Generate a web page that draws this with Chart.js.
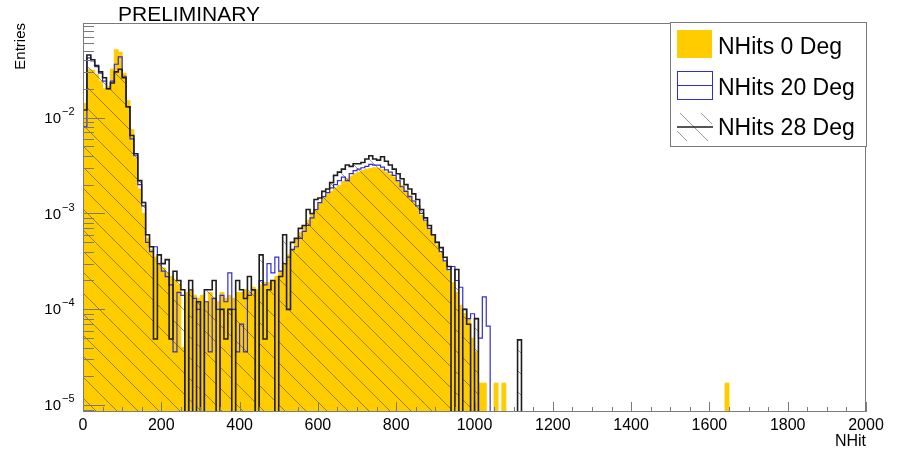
<!DOCTYPE html>
<html>
<head>
<meta charset="utf-8">
<script src="https://cdn.jsdelivr.net/npm/chart.js@4.4.1/dist/chart.umd.min.js"></script>
<style>
  html, body { margin: 0; padding: 0; background: #fff; }
  canvas { display: block; }
</style>
</head>
<body>
<canvas id="nhitChart" width="903" height="452"></canvas>
<script>
// histogram binning: first bin starts at NHit 0
const BIN_WIDTH = 10;
const Y_MIN = 8.5e-6;
const Y_MAX = 0.097;

const seriesLabels = ["NHits 0 Deg", "NHits 20 Deg", "NHits 28 Deg"];

// normalised entries per bin
const deg0 = [
  0.014, 0.032, 0.031, 0.028, 0.024, 0.020, 0.021, 0.032, 0.051, 0.048,
  0.029, 0.015, 0.0075, 0.0038, 0.0018, 0.0010, 5.5e-4, 4.2e-4, 3.5e-4, 3.0e-4,
  2.7e-4, 2.4e-4, 2.2e-4, 2.0e-4, 1.8e-4, 4e-5, 1.5e-4, 1.6e-4, 1.4e-4, 1.3e-4,
  1.4e-4, 1.2e-4, 1.5e-4, 1.3e-4, 1.2e-4, 1.5e-4, 1.3e-4, 1.4e-4, 1.3e-4, 1.5e-4,
  1.5e-4, 1.6e-4, 1.5e-4, 1.7e-4, 1.6e-4, 1.8e-4, 1.9e-4, 1.9e-4, 2.0e-4, 2.2e-4,
  2.5e-4, 3.0e-4, 3.7e-4, 4.3e-4, 5.3e-4, 6.3e-4, 7.5e-4, 8.5e-4, 1.0e-3, 1.1e-3,
  1.3e-3, 1.45e-3, 1.6e-3, 1.7e-3, 1.85e-3, 1.95e-3, 2.15e-3, 2.3e-3, 2.45e-3, 2.6e-3,
  2.7e-3, 2.8e-3, 2.9e-3, 2.95e-3, 3.0e-3, 2.95e-3, 2.85e-3, 2.7e-3, 2.55e-3, 2.4e-3,
  2.15e-3, 1.95e-3, 1.75e-3, 1.55e-3, 1.35e-3, 1.15e-3, 9.5e-4, 8.2e-4, 7.0e-4, 5.8e-4,
  4.7e-4, 3.8e-4, 3.1e-4, 2.5e-4, 1.9e-4, 1.5e-4, 1.1e-4, 9e-5, 8e-5, 5e-5,
  3.6e-5, 1.7e-5, 1.7e-5, 0, 0, 1.7e-5, 0, 1.7e-5,
];
// lone far bins
const deg0Far = [{ nhit: 1640, entries: 1.7e-5 }];

const deg20 = [
  0.008, 0.042, 0.039, 0.034, 0.029, 0.024, 0.020, 0.024, 0.036, 0.043,
  0.027, 0.013, 0.006, 0.004, 0.002, 0.0012, 5e-4, 4e-4, 4.5e-4, 3.0e-4,
  2.5e-4, 2.2e-4, 1.8e-4, 3.6e-5, 1.5e-4, 1.4e-4, 0, 1.6e-4, 1.3e-4, 1.0e-4,
  0, 1.2e-4, 3.6e-5, 1.3e-4, 1.0e-4, 1.4e-4, 1.2e-4, 2.4e-4, 1.0e-4, 3.6e-5,
  7e-5, 3.6e-5, 1.4e-4, 1.6e-4, 0, 2.0e-4, 1.8e-4, 3.0e-4, 2.4e-4, 3.5e-4,
  2.5e-4, 3.0e-4, 3.5e-4, 4.2e-4, 4.5e-4, 5.5e-4, 6.5e-4, 7.5e-4, 9e-4, 1.1e-3,
  1.3e-3, 1.5e-3, 1.65e-3, 1.85e-3, 2.0e-3, 2.2e-3, 2.4e-3, 2.2e-3, 2.6e-3, 2.8e-3,
  2.9e-3, 3.0e-3, 3.1e-3, 3.25e-3, 3.2e-3, 3.2e-3, 3.05e-3, 2.85e-3, 2.7e-3, 2.5e-3,
  2.2e-3, 1.9e-3, 1.7e-3, 1.5e-3, 1.35e-3, 1.2e-3, 1.0e-3, 8.5e-4, 7e-4, 6e-4,
  5e-4, 4e-4, 3.2e-4, 2.6e-4, 2.8e-4, 2.0e-4, 1.7e-4, 1.0e-4, 8e-5, 9e-5,
  8e-5, 5e-5, 1.35e-4, 6.7e-5,
];

const deg28 = [
  0.012, 0.045, 0.040, 0.035, 0.030, 0.026, 0.020, 0.023, 0.030, 0.032,
  0.026, 0.013, 0.0065, 0.0042, 0.0022, 0.0013, 6e-4, 4.5e-4, 4.9e-5, 3.7e-4,
  3.0e-4, 3.3e-4, 4.9e-5, 2.5e-4, 2.0e-4, 1.6e-4, 0, 2.0e-4, 0, 1.2e-4,
  0, 1.6e-4, 1.6e-4, 2.0e-4, 0, 1.0e-4, 4.9e-5, 1.0e-4, 0, 2.0e-4,
  1.6e-4, 1.3e-4, 2.2e-4, 1.6e-4, 0, 3.7e-4, 4.9e-5, 1.6e-4, 2.0e-4, 0,
  2.2e-4, 6e-4, 1.0e-4, 5e-4, 5.5e-4, 7e-4, 7.5e-4, 1.1e-3, 1.0e-3, 1.4e-3,
  1.45e-3, 1.7e-3, 1.8e-3, 2.1e-3, 2.5e-3, 2.7e-3, 2.9e-3, 3.2e-3, 3.1e-3, 3.3e-3,
  3.3e-3, 3.4e-3, 3.7e-3, 4.0e-3, 3.7e-3, 3.6e-3, 3.9e-3, 3.5e-3, 3.2e-3, 2.9e-3,
  2.6e-3, 2.3e-3, 2.0e-3, 1.8e-3, 1.6e-3, 1.4e-3, 1.1e-3, 9e-4, 7.5e-4, 6e-4,
  5e-4, 4.4e-4, 3.5e-4, 2.8e-4, 0, 2.6e-4, 0, 1.0e-4, 7e-5, 0,
  8e-5, 0, 0, 0, 0, 0, 0, 0, 0, 0,
  0, 4.8e-5,
];

const xTickValues = [0, 200, 400, 600, 800, 1000, 1200, 1400, 1600, 1800, 2000];
const yDecades = [-5, -4, -3, -2];

const FONT = "'Liberation Sans', Arial, sans-serif";
Chart.defaults.font.family = FONT;

// step points at bin low edges; empty bins go below the log axis like in ROOT
function histPoints(values, extra = []) {
  const floor = Y_MIN / 10;
  const pts = [{ x: 0, y: floor }];
  values.forEach((v, i) => pts.push({ x: i * BIN_WIDTH, y: v > 0 ? v : floor }));
  pts.push({ x: values.length * BIN_WIDTH, y: floor });
  extra.forEach((b) => {
    pts.push({ x: b.nhit, y: b.entries });
    pts.push({ x: b.nhit + BIN_WIDTH, y: floor });
  });
  return pts;
}

const canvas = document.getElementById("nhitChart");

function makeHatch(color) {
  const s = 21;
  const tile = document.createElement("canvas");
  tile.width = s;
  tile.height = s;
  const g = tile.getContext("2d");
  g.strokeStyle = color;
  g.lineWidth = 1;
  g.beginPath();
  g.moveTo(-2, -2);
  g.lineTo(s + 2, s + 2);
  g.moveTo(-2, s - 2);
  g.lineTo(2, s + 2);
  g.moveTo(s - 2, -2);
  g.lineTo(s + 2, 2);
  g.stroke();
  return canvas.getContext("2d").createPattern(tile, "repeat");
}

const hatch = makeHatch("rgba(30, 30, 30, 0.45)");
const YELLOW = "#ffcc00";
const BLUE = "#2e2ed8";
const BLACK = "#1e1e1e";
const FRAME = "#7a7a7a";
const lineClip = { left: 0, top: 0, right: 0, bottom: -1 };

const rootDecor = {
  id: "rootDecor",
  afterDraw(chart) {
    const { ctx, chartArea: a, scales } = chart;
    const x = scales.x;
    const y = scales.y;
    ctx.save();

    // frame and inward ticks
    ctx.strokeStyle = FRAME;
    ctx.lineWidth = 1;
    ctx.strokeRect(a.left + 0.5, a.top + 0.5, a.right - a.left - 1, a.bottom - a.top - 1);
    ctx.beginPath();
    for (let v = xTickValues[0]; v <= xTickValues[xTickValues.length - 1]; v += 50) {
      const px = Math.round(x.getPixelForValue(v)) + 0.5;
      const len = xTickValues.includes(v) ? 10 : 5;
      ctx.moveTo(px, a.bottom);
      ctx.lineTo(px, a.bottom - len);
    }
    for (let e = -6; e <= -1; e++) {
      for (let m = 1; m <= 9; m++) {
        const v = m * Math.pow(10, e);
        if (v < y.min || v > y.max) continue;
        const py = Math.round(y.getPixelForValue(v)) + 0.5;
        ctx.moveTo(a.left, py);
        ctx.lineTo(a.left + (m === 1 ? 22 : 11), py);
      }
    }
    ctx.stroke();

    // log labels 10^n
    ctx.fillStyle = "#000";
    ctx.textBaseline = "middle";
    yDecades.forEach((e) => {
      const py = y.getPixelForValue(Math.pow(10, e));
      ctx.font = "15px " + FONT;
      ctx.textAlign = "right";
      ctx.fillText("10", 61, py + 1);
      ctx.font = "11px " + FONT;
      ctx.textAlign = "left";
      ctx.fillText("\u2212" + Math.abs(e), 62, py - 6);
    });

    // title
    ctx.textBaseline = "alphabetic";
    ctx.textAlign = "left";
    ctx.font = "21px " + FONT;
    ctx.fillText("PRELIMINARY", 118, 21);

    // legend box
    const lx = 670, ly = 22, lw = 197, lh = 124;
    ctx.fillStyle = "#fff";
    ctx.fillRect(lx, ly, lw, lh);
    ctx.strokeStyle = FRAME;
    ctx.strokeRect(lx + 0.5, ly + 0.5, lw - 1, lh);

    ctx.fillStyle = YELLOW;
    ctx.fillRect(677, 30, 35, 28);

    ctx.strokeStyle = BLUE;
    ctx.strokeRect(677.5, 71.5, 35, 28);
    ctx.beginPath();
    ctx.moveTo(677, 85.5);
    ctx.lineTo(713, 85.5);
    ctx.stroke();

    ctx.fillStyle = hatch;
    ctx.fillRect(677, 113, 35, 28);
    ctx.strokeStyle = BLACK;
    ctx.lineWidth = 1.5;
    ctx.beginPath();
    ctx.moveTo(677, 127);
    ctx.lineTo(713, 127);
    ctx.stroke();

    ctx.fillStyle = "#000";
    ctx.font = "23px " + FONT;
    [54, 95, 135].forEach((by, i) => ctx.fillText(seriesLabels[i], 718, by));

    ctx.restore();
  },
};

new Chart(canvas, {
  type: "line",
  data: {
    datasets: [
      {
        label: seriesLabels[0],
        data: histPoints(deg0, deg0Far),
        stepped: "before",
        fill: "start",
        backgroundColor: YELLOW,
        borderColor: YELLOW,
        borderWidth: 1,
        pointRadius: 0,
        order: 3,
        clip: lineClip,
      },
      {
        label: seriesLabels[1],
        data: histPoints(deg20),
        stepped: "before",
        fill: false,
        borderColor: BLUE,
        borderWidth: 1.2,
        pointRadius: 0,
        order: 2,
        clip: lineClip,
      },
      {
        label: seriesLabels[2],
        data: histPoints(deg28),
        stepped: "before",
        fill: "start",
        backgroundColor: hatch,
        borderColor: BLACK,
        borderWidth: 1.6,
        pointRadius: 0,
        order: 1,
        clip: lineClip,
      },
    ],
  },
  options: {
    responsive: false,
    animation: false,
    devicePixelRatio: 1,
    layout: { padding: { left: 0, right: 37, top: 23, bottom: 0 } },
    plugins: {
      legend: { display: false },
      tooltip: { enabled: false },
    },
    scales: {
      x: {
        type: "linear",
        min: 0,
        max: 2000,
        grid: { display: false },
        border: { display: false },
        ticks: {
          stepSize: 200,
          autoSkip: false,
          maxRotation: 0,
          padding: -4,
          color: "#000",
          font: { size: 16 },
          callback: (v) => (xTickValues.includes(v) ? String(v) : ""),
        },
        title: {
          display: true,
          text: "NHit",
          align: "end",
          color: "#000",
          font: { size: 16 },
          padding: { top: 0, bottom: 1 },
        },
        afterFit: (scale) => {
          scale.height = 40;
        },
      },
      y: {
        type: "logarithmic",
        min: Y_MIN,
        max: Y_MAX,
        bounds: "data",
        grid: { display: false },
        border: { display: false },
        ticks: { display: false },
        title: {
          display: true,
          text: "Entries",
          align: "end",
          color: "#000",
          font: { size: 15 },
          padding: { top: 12, bottom: 0 },
        },
        afterFit: (scale) => {
          scale.width = 83;
        },
      },
    },
  },
  plugins: [rootDecor],
});
</script>
</body>
</html>
